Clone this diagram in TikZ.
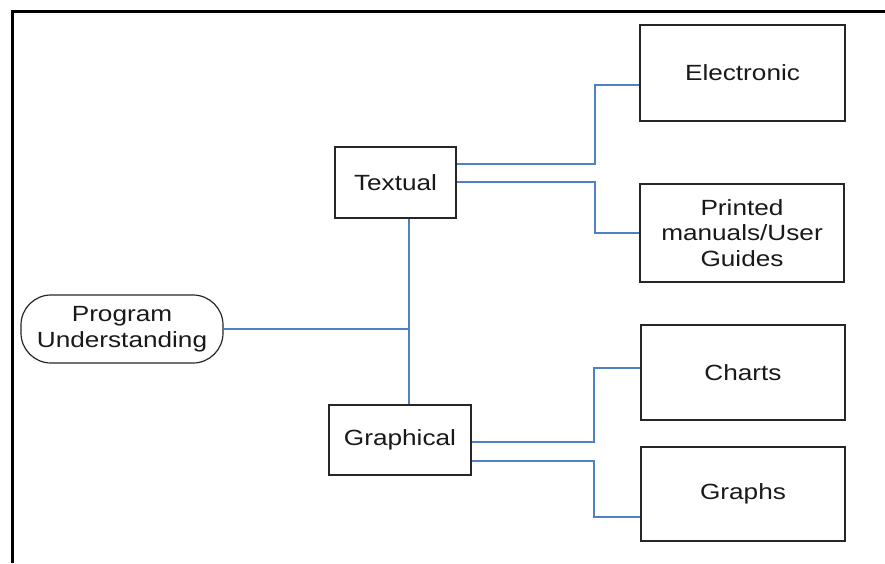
\documentclass[tikz,border=0pt]{standalone}
\usepackage{fontspec}
\setmainfont{Liberation Sans}[FakeStretch=1.19]
\begin{document}
\begin{tikzpicture}[x=1pt,y=-1pt,
  box/.style={draw=black!85,line width=1.5pt,inner sep=0pt,align=center,
    font=\fontsize{22}{25.5}\selectfont,text=black!90},
  conn/.style={draw={rgb,255:red,79;green,129;blue,199},line width=1.4pt}]
\useasboundingbox (0,0) rectangle (885,563);
\draw[line width=3pt] (12,563) -- (12,11) -- (885,11);
\node[box,minimum width=205pt,minimum height=96pt] (Electronic) at (742.5,73) {Electronic};
\node[box,minimum width=204pt,minimum height=98pt] (Printed) at (742,233) {Printed\\manuals/User\\Guides};
\node[box,minimum width=204pt,minimum height=95pt] (Charts) at (743,372.5) {Charts};
\node[box,minimum width=204pt,minimum height=94pt] (Graphs) at (743,494) {Graphs};
\node[box,minimum width=121pt,minimum height=71pt] (Textual) at (395.5,182.5) {Textual};
\node[box,minimum width=142pt,minimum height=70pt] (Graphical) at (400,440) {Graphical};
\node[box,line width=1.2pt,rounded corners=30pt,minimum width=202pt,minimum height=68pt] (Program) at (122,329) {Program\\Understanding};
\draw[conn] (Textual.east |- 0,164) -- (595,164) |- (Electronic.west |- 0,85);
\draw[conn] (Textual.east |- 0,182) -- (595,182) |- (Printed.west);
\draw[conn] (Textual.south -| 409,0) -- (Graphical.north -| 409,0);
\draw[conn] (Program.east) -- (409,329);
\draw[conn] (Graphical.east |- 0,442) -- (594,442) |- (Charts.west |- 0,368);
\draw[conn] (Graphical.east |- 0,461) -- (594,461) |- (Graphs.west |- 0,517);
\end{tikzpicture}
\end{document}
